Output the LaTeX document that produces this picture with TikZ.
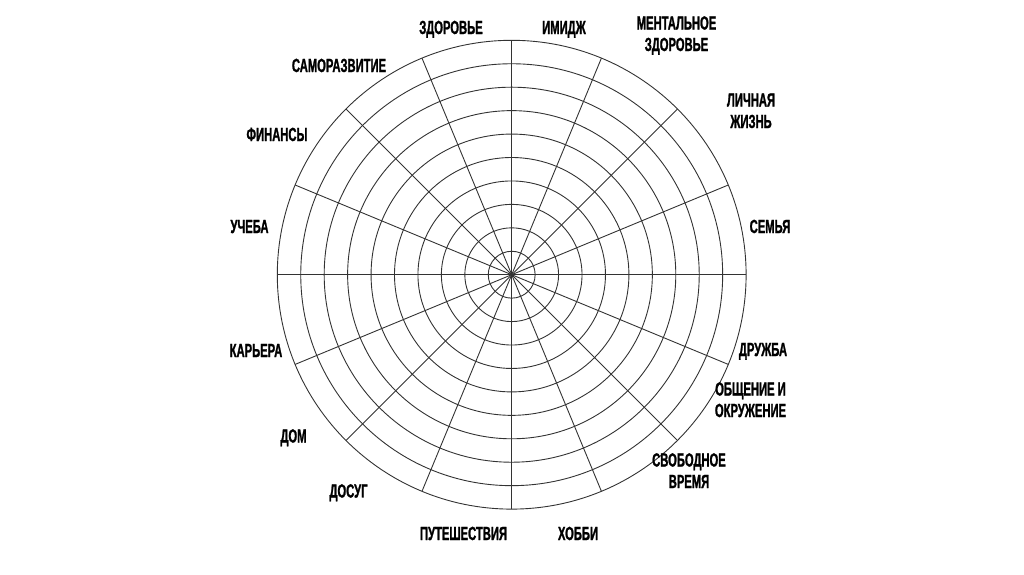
\documentclass[tikz,border=0pt]{standalone}
\usepackage{fontspec}
\setmainfont[FakeStretch=0.59, BoldFeatures={FakeBold=1.2}]{Liberation Sans}
\begin{document}
\begin{tikzpicture}[x=1pt, y=-1pt,
    trait/.style={black!80, line width=0.9pt},
    secteur/.style={font=\bfseries\fontsize{19}{21.5}\selectfont, align=center, anchor=base}]
        \useasboundingbox (0,0) rectangle (1024,574);

        % Centre et rayon de la roue
        \coordinate (C) at (511.7,274.7);
        \def\Rext{234.4}

        % Cercles concentriques (10 niveaux)
        \foreach \k in {1,...,10}
            \draw[trait] (C) circle ({\k*23.44pt});

        % Rayons : 16 secteurs
        \foreach \a in {0,22.5,...,337.5}
            \draw[trait] (C) -- +(\a:\Rext);

        % Secteurs du haut
        \node[secteur] (zdorovie) at (451,34) {ЗДОРОВЬЕ};
        \node[secteur] (imidzh) at (564,34) {ИМИДЖ};
        \node[secteur] (mental) at (676.5,51) {МЕНТАЛЬНОЕ\\ЗДОРОВЬЕ};
        \node[secteur] (samorazv) at (339,72) {САМОРАЗВИТИЕ};

        % Secteurs de droite
        \node[secteur] (lichnaya) at (751,128) {ЛИЧНАЯ\\ЖИЗНЬ};
        \node[secteur] (semya) at (770,233) {СЕМЬЯ};
        \node[secteur] (druzhba) at (763,356) {ДРУЖБА};
        \node[secteur] (obshenie) at (750.5,417) {ОБЩЕНИЕ И\\ОКРУЖЕНИЕ};
        \node[secteur] (svobodnoe) at (689,488) {СВОБОДНОЕ\\ВРЕМЯ};

        % Secteurs du bas
        \node[secteur] (hobbi) at (578,540) {ХОББИ};
        \node[secteur] (puteshestviya) at (463.5,540) {ПУТЕШЕСТВИЯ};
        \node[secteur] (dosug) at (348.5,497.5) {ДОСУГ};

        % Secteurs de gauche
        \node[secteur] (dom) at (293.5,442.5) {ДОМ};
        \node[secteur] (kariera) at (256,357) {КАРЬЕРА};
        \node[secteur] (ucheba) at (249.5,233) {УЧЕБА};
        \node[secteur] (finansy) at (277,141) {ФИНАНСЫ};

    \end{tikzpicture}
\end{document}
